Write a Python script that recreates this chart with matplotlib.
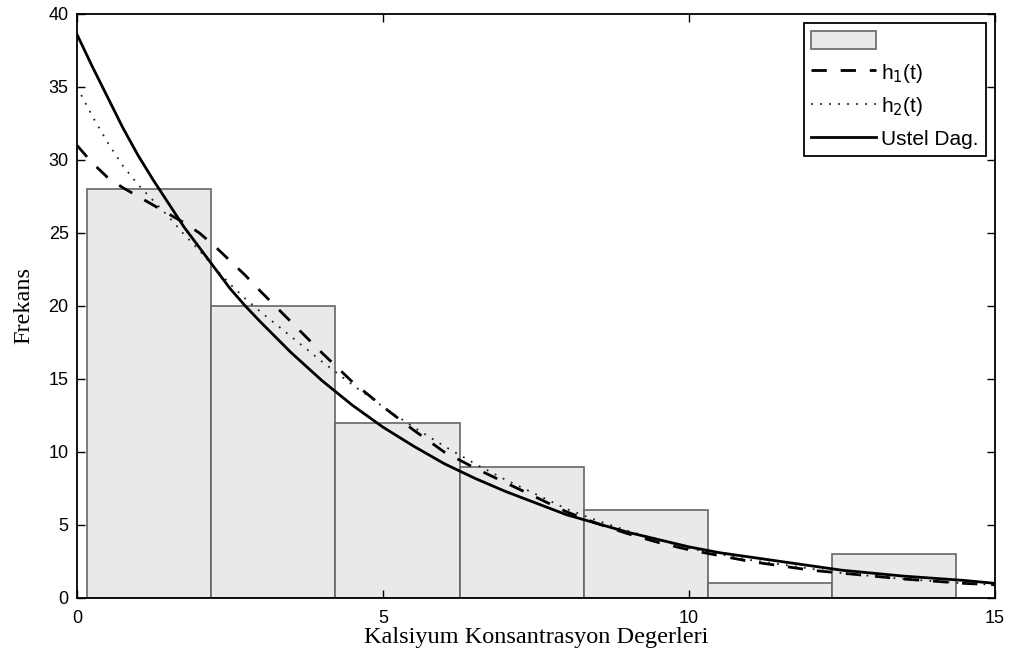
import numpy as np
import matplotlib
matplotlib.use("Agg")
import matplotlib.pyplot as plt
from matplotlib.patches import Patch
from matplotlib.lines import Line2D

# histogram (bin edges) and counts
bin_edges = [0.16, 2.19, 4.22, 6.25, 8.28, 10.31, 12.34, 14.37]
counts = [28, 20, 12, 9, 6, 1, 3]

# curves (denser where they bend most)
t = [0, 0.25, 0.5, 0.75, 1, 1.25, 1.5, 1.75, 2, 2.25, 2.5, 2.75, 3, 3.5, 4,
     4.5, 5, 5.5, 6, 6.5, 7, 7.5, 8, 8.5, 9, 9.5, 10, 10.5, 11, 11.5, 12,
     12.5, 13, 13.5, 14, 14.5, 15]
ustel = [38.6, 36.4, 34.3, 32.2, 30.3, 28.6, 27.0, 25.4, 24.0, 22.6, 21.2, 20.0,
         18.9, 16.8, 14.9, 13.2, 11.7, 10.4, 9.2, 8.2, 7.3, 6.5, 5.7, 5.1, 4.5,
         4.0, 3.5, 3.1, 2.8, 2.5, 2.2, 1.9, 1.7, 1.5, 1.35, 1.2, 1.0]
h1 = [31.0, 29.8, 28.8, 28.1, 27.5, 26.9, 26.3, 25.7, 25.0, 24.1, 23.1, 22.1,
      21.0, 18.9, 16.8, 14.8, 13.1, 11.5, 10.0, 8.9, 7.9, 6.9, 5.9, 5.1, 4.4,
      3.8, 3.3, 2.9, 2.5, 2.2, 1.9, 1.7, 1.5, 1.3, 1.15, 1.0, 0.9]
h2 = [35.0, 33.0, 31.2, 29.6, 28.3, 27.2, 26.1, 24.9, 23.8, 22.6, 21.5, 20.5,
      19.6, 17.9, 16.2, 14.6, 13.1, 11.7, 10.4, 9.2, 8.1, 7.1, 6.1, 5.3, 4.6,
      4.0, 3.4, 3.0, 2.6, 2.3, 2.0, 1.7, 1.5, 1.3, 1.15, 1.0, 0.9]

fig = plt.figure(figsize=(10.17, 6.62), dpi=100)
ax = fig.add_axes([0.0757, 0.0967, 0.9027, 0.8822])

bar_face = "#e9e9e9"
bar_edge = "#666666"
ax.bar(bin_edges[:-1], counts, width=np.diff(bin_edges), align="edge",
       facecolor=bar_face, edgecolor=bar_edge, linewidth=1.2, zorder=1)

dash = (0, (5.5, 5))
dot = (0, (1, 4))
ax.plot(t, h1, color="black", linestyle=dash, linewidth=2.0, zorder=3)
ax.plot(t, h2, color="#222222", linestyle=dot, linewidth=1.3, zorder=3)
ax.plot(t, ustel, color="black", linestyle="-", linewidth=2.0, zorder=4)

ax.set_xlim(0, 15)
ax.set_ylim(0, 40)
ax.set_xticks([0, 5, 10, 15])
ax.set_yticks(range(0, 41, 5))
ax.tick_params(direction="in", top=True, right=True, length=6, width=1,
               labelsize=13)
ax.tick_params(axis="x", pad=9)
ax.tick_params(axis="y", pad=6)
for lab in ax.get_xticklabels() + ax.get_yticklabels():
    lab.set_family(["Liberation Sans", "DejaVu Sans"])
for s in ax.spines.values():
    s.set_linewidth(1.3)

ax.set_xlabel("Kalsiyum Konsantrasyon Degerleri", family="Liberation Serif",
              fontsize=17.5, labelpad=0)
ax.set_ylabel("Frekans", family="Liberation Serif", fontsize=17.5, labelpad=10)

handles = [
    Patch(facecolor=bar_face, edgecolor=bar_edge, linewidth=1.2),
    Line2D([], [], color="black", linestyle=dash, linewidth=2.0),
    Line2D([], [], color="#222222", linestyle=dot, linewidth=1.3),
    Line2D([], [], color="black", linestyle="-", linewidth=2.0),
]
labels = ["", "h$_1$(t)", "h$_2$(t)", "Ustel Dag."]
leg = ax.legend(handles, labels, loc="upper right", fancybox=False,
                edgecolor="black", framealpha=1, borderaxespad=0.45,
                handlelength=3.1, handleheight=1.0, labelspacing=0.5,
                handletextpad=0.25, borderpad=0.35,
                prop={"family": "Liberation Sans", "size": 15})
leg.get_frame().set_linewidth(1.3)

fig.savefig("out.png", dpi=100)
